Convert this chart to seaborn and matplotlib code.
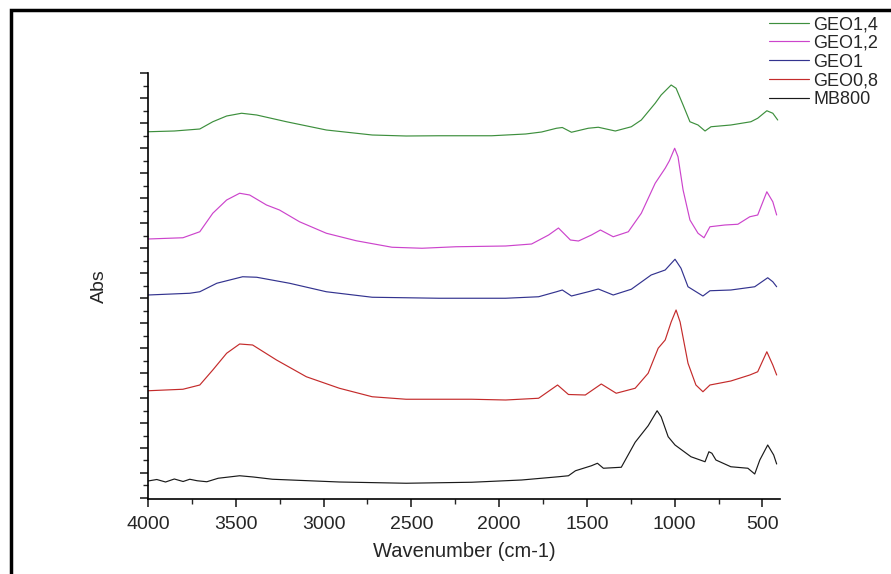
"""Recreate the FTIR absorbance spectra chart."""

import matplotlib

matplotlib.use("Agg")
import matplotlib.pyplot as plt
import pandas as pd
import seaborn as sns
from matplotlib.patches import Rectangle
from matplotlib.ticker import MultipleLocator
import numpy as np

# Spectra: wavenumber (cm-1) and stacked absorbance
geo14_wn = [4000, 3850, 3705, 3631, 3552, 3467, 3381, 3211, 2984, 2723, 2530,
            2343, 2042, 1849, 1758, 1673, 1640, 1588, 1492, 1435, 1338, 1247,
            1190, 1111, 1077, 1020, 992, 952, 913, 867, 827, 793, 680, 566,
            527, 475, 441, 413]
geo14_abs = [14.41, 14.44, 14.52, 14.81, 15.04, 15.15, 15.08, 14.81, 14.48,
             14.28, 14.24, 14.25, 14.25, 14.32, 14.40, 14.55, 14.58, 14.39,
             14.55, 14.59, 14.44, 14.61, 14.88, 15.55, 15.88, 16.28, 16.15,
             15.48, 14.81, 14.68, 14.44, 14.61, 14.68, 14.81, 14.95, 15.25,
             15.15, 14.88]

geo12_wn = [4000, 3801, 3705, 3631, 3552, 3478, 3421, 3325, 3251, 3137, 2984,
            2814, 2610, 2439, 2246, 1963, 1815, 1718, 1662, 1594, 1548, 1474,
            1423, 1350, 1264, 1190, 1111, 1054, 1030, 1000, 981, 952, 913, 867,
            833, 799, 714, 640, 572, 527, 475, 441, 419]
geo12_abs = [10.12, 10.17, 10.41, 11.15, 11.68, 11.95, 11.88, 11.48, 11.28,
             10.81, 10.35, 10.05, 9.79, 9.75, 9.81, 9.84, 9.92, 10.28, 10.56,
             10.08, 10.04, 10.28, 10.48, 10.21, 10.41, 11.15, 12.35, 12.95,
             13.25, 13.75, 13.41, 12.08, 10.88, 10.35, 10.17, 10.61, 10.68,
             10.71, 11.01, 11.08, 12.01, 11.61, 11.08]

geo1_wn = [4000, 3762, 3705, 3608, 3461, 3381, 3194, 2984, 2723, 2343, 1963,
           1775, 1673, 1640, 1588, 1492, 1435, 1350, 1247, 1134, 1054, 998,
           964, 924, 839, 799, 680, 544, 470, 441, 419]
geo1_abs = [7.88, 7.95, 8.01, 8.35, 8.61, 8.59, 8.35, 8.01, 7.79, 7.75, 7.75,
            7.81, 8.01, 8.08, 7.84, 8.01, 8.12, 7.88, 8.11, 8.68, 8.88, 9.31,
            8.95, 8.21, 7.84, 8.05, 8.08, 8.21, 8.57, 8.41, 8.21]

geo08_wn = [4000, 3801, 3705, 3631, 3552, 3478, 3404, 3268, 3098, 2910, 2723,
            2530, 2156, 1963, 1775, 1667, 1605, 1509, 1418, 1333, 1225, 1151,
            1094, 1054, 1020, 992, 969, 924, 879, 839, 799, 680, 572, 527, 475,
            441, 419]
geo08_abs = [4.05, 4.11, 4.28, 4.88, 5.55, 5.92, 5.88, 5.28, 4.61, 4.15, 3.81,
             3.71, 3.71, 3.68, 3.75, 4.28, 3.90, 3.88, 4.32, 3.95, 4.15, 4.75,
             5.75, 6.08, 6.80, 7.28, 6.80, 5.15, 4.28, 4.01, 4.28, 4.44, 4.68,
             4.81, 5.61, 5.08, 4.68]

mb800_wn = [4000, 3950, 3900, 3850, 3800, 3762, 3720, 3665, 3600, 3478, 3400,
            3291, 2910, 2530, 2156, 1872, 1662, 1605, 1565, 1474, 1440, 1406,
            1304, 1225, 1151, 1100, 1077, 1037, 998, 907, 827, 805, 788, 765,
            680, 583, 544, 515, 470, 436, 419]
mb800_abs = [0.44, 0.50, 0.40, 0.52, 0.42, 0.51, 0.45, 0.41, 0.55, 0.65, 0.60,
             0.51, 0.40, 0.35, 0.39, 0.48, 0.61, 0.65, 0.85, 1.05, 1.15, 0.95,
             0.99, 1.99, 2.65, 3.25, 3.01, 2.21, 1.88, 1.41, 1.21, 1.61, 1.55,
             1.28, 1.01, 0.95, 0.72, 1.28, 1.88, 1.48, 1.12]

labels = ["GEO1,4", "GEO1,2", "GEO1", "GEO0,8", "MB800"]
colors = ["#3d8f3d", "#cc44cc", "#33338f", "#c42b2b", "#1a1a1a"]


def main():
    """Draw the stacked spectra."""
    series = [(geo14_wn, geo14_abs), (geo12_wn, geo12_abs),
              (geo1_wn, geo1_abs), (geo08_wn, geo08_abs),
              (mb800_wn, mb800_abs)]
    frames = []
    for label, (wn, ab) in zip(labels, series):
        frames.append(pd.DataFrame({"wn": wn, "abs": ab, "sample": label}))
    spectra = pd.concat(frames, ignore_index=True)

    sns.set_style("white")
    plt.rcParams["font.family"] = ["Liberation Sans", "DejaVu Sans"]

    fig = plt.figure(figsize=(8.91, 5.74), dpi=100)
    ax = fig.add_axes([148 / 891, 1 - 499 / 574, 632 / 891, 426 / 574])

    sns.lineplot(data=spectra, x="wn", y="abs", hue="sample",
                 hue_order=labels, palette=colors, estimator=None,
                 linewidth=0.85, ax=ax, legend=True)

    ax.set_xlim(4000, 400)
    ax.set_ylim(-0.28, 16.76)
    ax.xaxis.set_major_locator(MultipleLocator(500))
    ax.xaxis.set_minor_locator(MultipleLocator(250))
    ax.set_yticks(np.arange(16.76, -0.3, -1.0))
    ax.set_yticks(np.arange(16.26, -0.3, -1.0), minor=True)
    ax.set_yticklabels([])
    ax.tick_params(axis="both", which="major", direction="out", length=6,
                   width=1.2, left=True, bottom=True, labelsize=14, pad=6)
    ax.tick_params(axis="both", which="minor", direction="out", length=3.5,
                   width=1.0, left=True, bottom=True)
    for side in ["top", "right"]:
        ax.spines[side].set_visible(False)
    for side in ["left", "bottom"]:
        ax.spines[side].set_color("black")
        ax.spines[side].set_linewidth(1.2)

    ax.set_xlabel("Wavenumber (cm-1)", fontsize=14.5, labelpad=7)
    ax.set_ylabel("Abs", fontsize=14, labelpad=17)

    handles, texts = ax.get_legend_handles_labels()
    ax.legend(handles, texts, loc="upper left", frameon=False,
              bbox_to_anchor=(769 / 891, 1 - 16 / 574),
              bbox_transform=fig.transFigure, fontsize=13,
              handlelength=2.2, handletextpad=0.25, labelspacing=0.1,
              borderaxespad=0, borderpad=0)

    # Frame round the whole picture
    fig.add_artist(Rectangle((11 / 891, -0.1), 1.0, 1 - 10 / 574 + 0.1,
                             transform=fig.transFigure, fill=False,
                             linewidth=2.5, edgecolor="black"))

    fig.savefig("out.png", dpi=100)
    plt.close(fig)


if __name__ == "__main__":
    main()
